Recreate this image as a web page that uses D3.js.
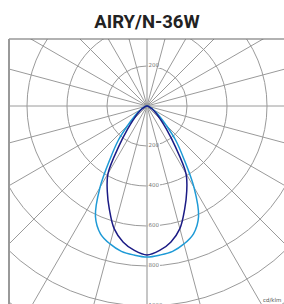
<!DOCTYPE html>
<html><head><meta charset="utf-8">
<script src="https://cdn.jsdelivr.net/npm/d3@7"></script>
<style>html,body{margin:0;padding:0;background:#fff;overflow:hidden}</style>
</head><body>
<script>
const title = "AIRY/N-36W";
const angles = [0,5,10,15,20,25,30,35,40,45,50,55,60,65,70,75,80,85,90];
const seriesLight = [755,748,738,714,680,610,470,320,222,135,85,55,35,22,12,6,3,1,0];
const seriesDark  = [745,725,690,635,550,470,390,245,150,95,65,42,28,18,10,5,2,1,0];
const ringValues = [200,400,600,800,1000,1200];
const ringLabelsBelow = [200,400,600,800,1000];
const ringLabelsAbove = [200];
const unitLabel = "cd/klm";

const W = 284, H = 304;
const cx = 147, cy = 106;
const frame = {x: 9, y: 39};

const svg = d3.select("body").append("svg").attr("width", W).attr("height", H);

svg.append("text").attr("x", 147).attr("y", 27.5).attr("text-anchor", "middle")
  .attr("font-family", "Roboto, sans-serif").attr("font-weight", "bold")
  .attr("font-size", 18.5).attr("fill", "#222").text(title);

svg.append("clipPath").attr("id", "fc").append("rect")
  .attr("x", frame.x).attr("y", frame.y).attr("width", W - frame.x + 10).attr("height", H - frame.y + 10);

const r = d3.scaleLinear().domain([0, 1000]).range([0, 200]);
const g = svg.append("g").attr("clip-path", "url(#fc)");
const c = g.append("g").attr("transform", `translate(${cx},${cy})`);

// rings
c.selectAll("circle.ring").data(ringValues).join("circle")
  .attr("r", d => r(d)).attr("fill", "none").attr("stroke", "#9a9a9a").attr("stroke-width", 1);

// spokes
const spokes = d3.range(0, 360, 15);
c.selectAll("line.spoke").data(spokes).join("line")
  .attr("x1", 0).attr("y1", 0)
  .attr("x2", d => r(1400) * Math.sin(d * Math.PI / 180))
  .attr("y2", d => -r(1400) * Math.cos(d * Math.PI / 180))
  .attr("stroke", d => d % 180 === 0 ? "#b8b8b8" : "#9a9a9a")
  .attr("stroke-width", d => d % 180 === 0 ? 1.6 : 1);

// ring labels
function ringLabel(v, sign) {
  const y = sign * r(v);
  const t = c.append("text").attr("x", 1.5).attr("y", y + 1)
    .attr("font-family", "DejaVu Sans, sans-serif").attr("font-size", 5.5)
    .attr("fill", "#777").text(String(v));
  const bb = t.node().getBBox();
  c.insert("rect", "text").attr("x", bb.x - 0.5).attr("y", bb.y).attr("width", bb.width + 1).attr("height", bb.height)
    .attr("fill", "#fff");
}
// place rects under texts properly
ringLabelsBelow.forEach(v => ringLabel(v, 1));
ringLabelsAbove.forEach(v => ringLabel(v, -1));
c.selectAll("rect").lower();
c.selectAll("circle").lower();

// curves
function pts(vals) {
  const left = angles.map((a, i) => [Math.PI + a * Math.PI / 180, r(vals[i])]).reverse();
  const right = angles.map((a, i) => [Math.PI - a * Math.PI / 180, r(vals[i])]).slice(1);
  return left.concat(right);
}
const line = d3.lineRadial().angle(d => d[0]).radius(d => d[1]).curve(d3.curveCatmullRom);
c.append("path").attr("d", line(pts(seriesLight))).attr("fill", "none")
  .attr("stroke", "#1e9ad6").attr("stroke-width", 1.5);
c.append("path").attr("d", line(pts(seriesDark))).attr("fill", "none")
  .attr("stroke", "#1b1b85").attr("stroke-width", 1.5);

// frame
svg.append("line").attr("x1", frame.x).attr("y1", frame.y).attr("x2", W).attr("y2", frame.y)
  .attr("stroke", "#666").attr("stroke-width", 1.2);
svg.append("line").attr("x1", frame.x).attr("y1", frame.y).attr("x2", frame.x).attr("y2", H)
  .attr("stroke", "#999").attr("stroke-width", 2);

svg.append("text").attr("x", 263).attr("y", 302).attr("font-family", "DejaVu Sans, sans-serif")
  .attr("font-size", 5.5).attr("fill", "#555").text(unitLabel);
</script>
</body></html>
